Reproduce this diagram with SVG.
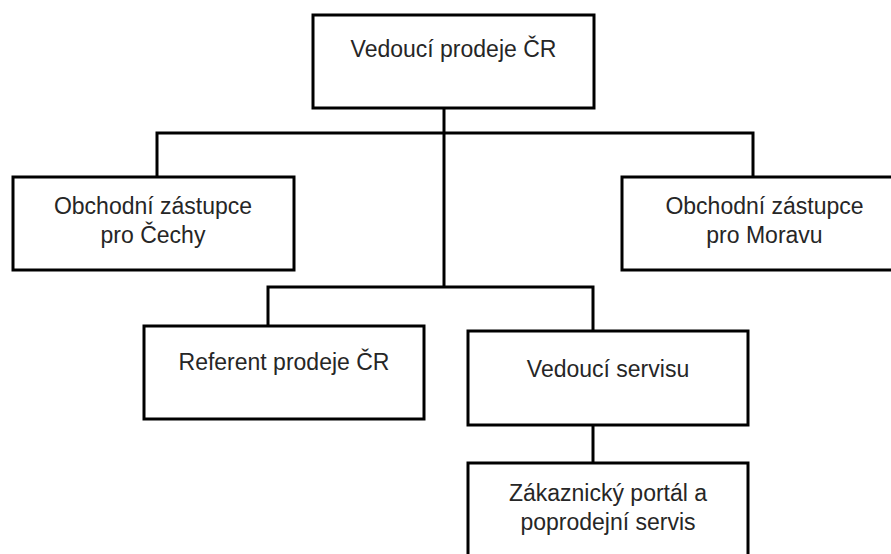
<svg xmlns="http://www.w3.org/2000/svg" width="891" height="554" viewBox="0 0 891 554">
<style>
.box{fill:#fff;stroke:#000;stroke-width:3}
.lbl{font-family:"Liberation Sans",Arial,sans-serif;font-size:23px;fill:#262626;text-anchor:middle}
.con{fill:none;stroke:#000;stroke-width:3}
</style>
<rect width="891" height="554" fill="#fff"/>
<g id="connectors">
<path class="con" d="M444 108V287"/>
<path class="con" d="M157 177V133H753V177"/>
<path class="con" d="M268 326V287H593V331"/>
<path class="con" d="M593 425V463"/>
</g>
<g id="n-vedouci-prodeje">
<rect class="box" x="313" y="15" width="281" height="93"/>
<text class="lbl" x="453.5" y="57">Vedoucí prodeje ČR</text>
</g>
<g id="n-cechy">
<rect class="box" x="13" y="177" width="281" height="93"/>
<text class="lbl" x="153" y="214">Obchodní zástupce</text>
<text class="lbl" x="153" y="243">pro Čechy</text>
</g>
<g id="n-morava">
<rect class="box" x="622" y="177" width="285" height="93"/>
<text class="lbl" x="764.5" y="214">Obchodní zástupce</text>
<text class="lbl" x="764.5" y="243">pro Moravu</text>
</g>
<g id="n-referent">
<rect class="box" x="144" y="326" width="280" height="93"/>
<text class="lbl" x="284" y="370">Referent prodeje ČR</text>
</g>
<g id="n-servis">
<rect class="box" x="468" y="331" width="280" height="94"/>
<text class="lbl" x="608" y="377">Vedoucí servisu</text>
</g>
<g id="n-portal">
<rect class="box" x="468" y="463" width="280" height="97"/>
<text class="lbl" x="608" y="501">Zákaznický portál a</text>
<text class="lbl" x="608" y="530">poprodejní servis</text>
</g>
</svg>
